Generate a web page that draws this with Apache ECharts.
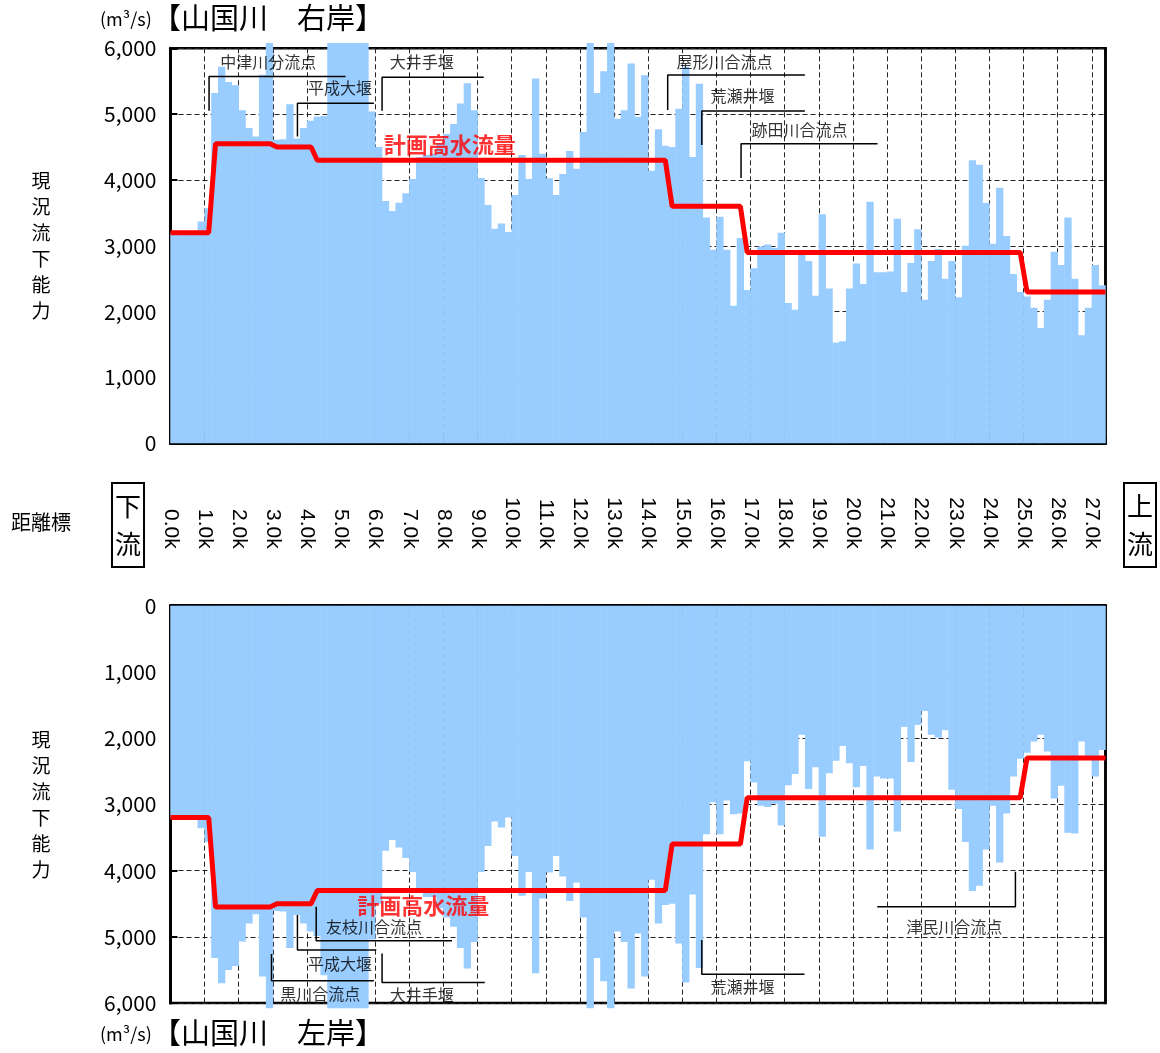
<!DOCTYPE html>
<html><head><meta charset="utf-8">
<script src="https://cdn.jsdelivr.net/npm/echarts@6/dist/echarts.min.js"></script>
<style>html,body{margin:0;padding:0;background:#fff}#c{width:1160px;height:1053px}</style>
</head><body><div id="c"></div>
<script>
// ---- data (m3/s), one bar per 0.2 km section, from 0.0k upstream ----
const rightBank = [
3200,3200,3200,3200,3370,3570,5320,5720,5490,5440,
5060,4790,4660,5600,6080,4610,4620,5150,4630,4790,
4900,4960,4970,6080,6080,6080,6080,6080,6080,5040,
4500,3680,3530,3655,3800,4015,4350,4380,4400,4560,
4700,4850,5160,5470,5060,4030,3620,3260,3340,3210,
3770,4380,4015,5540,4400,4025,3770,4090,4440,4170,
4730,6080,5320,5650,6080,4930,5060,5770,4960,5590,
4140,4770,4520,4500,5080,5720,4350,5460,3430,2940,
3440,2940,2090,3120,2330,2660,2990,3020,2970,3200,
2130,2030,2860,2770,2240,3480,2350,1530,1550,2350,
2730,2420,3670,2600,2600,2610,3410,2300,2740,3250,
2180,2770,2950,2500,2770,2220,3000,4300,4230,3650,
3030,3880,3150,2570,2300,2230,2060,1750,2180,2910,
2710,3430,2500,1640,2060,2710,2400
];
const leftBank = [
3200,3200,3200,3200,3360,3570,5320,5700,5500,5440,
5070,4800,4660,5600,6080,4610,4620,5170,4670,4800,
4920,4990,5580,6080,6080,6080,6080,6080,6080,5040,
4500,3700,3540,3650,3810,4020,4300,4400,4400,4570,
4710,4850,5170,5480,5080,4020,3630,3260,3350,3200,
3780,4380,4020,5550,4420,4030,3780,4090,4460,4180,
4710,6080,5320,5670,6080,4920,5080,5780,4950,5600,
4140,4800,4520,4500,5100,5690,4360,5470,3450,2970,
3450,2940,3150,3140,2350,2670,3020,3040,2990,3320,
2710,2540,1950,2770,2440,3490,2530,2340,2120,2380,
2740,2420,3680,2580,2610,2610,3410,1830,2360,1800,
1590,1950,1990,1880,2780,3070,3570,4310,4230,3680,
3020,3880,3140,2580,2310,2220,2050,1950,2200,2910,
2720,3430,3440,2050,2310,2580,2180
];
// 計画高水流量 (plan flood discharge) as a step line
const planKm = [0, 1.12, 1.32, 2.92, 3.12, 4.12, 4.3, 14.5, 14.7, 16.7, 16.9, 24.9, 25.1, 27.4];
const planQ  = [3200, 3200, 4550, 4550, 4500, 4500, 4300, 4300, 3600, 3600, 2900, 2900, 2300, 2300];
const kmLabels = ['0.0k','1.0k','2.0k','3.0k','4.0k','5.0k','6.0k','7.0k','8.0k','9.0k','10.0k','11.0k','12.0k','13.0k',
  '14.0k','15.0k','16.0k','17.0k','18.0k','19.0k','20.0k','21.0k','22.0k','23.0k','24.0k','25.0k','26.0k','27.0k'];
const qLabels = ['0','1,000','2,000','3,000','4,000','5,000','6,000'];
// annotations (km, m3/s)
const notesRight = [
  {name:'中津川分流点', path:[[1.13,5050],[1.13,5570],[5.13,5570]], at:[2.88,5790]},
  {name:'平成大堰', path:[[3.72,4660],[3.72,5165],[5.96,5165]], at:[4.98,5385]},
  {name:'大井手堰', path:[[6.2,5050],[6.2,5560],[9.18,5560]], at:[7.38,5790]},
  {name:'屋形川合流点', path:[[14.57,5063],[14.57,5595],[18.59,5595]], at:[16.25,5790]},
  {name:'荒瀬井堰', path:[[15.57,4531],[15.57,5048],[18.59,5048]], at:[16.78,5270]},
  {name:'跡田川合流点', path:[[16.72,4030],[16.72,4551],[20.72,4551]], at:[18.45,4755]}
];
const notesLeft = [
  {name:'友枝川合流点', path:[[4.27,4547],[4.27,5060],[8.25,5060]], at:[5.98,4860]},
  {name:'平成大堰', path:[[3.72,4672],[3.72,5201],[6.03,5201]], at:[4.98,5420]},
  {name:'黒川合流点', path:[[2.96,5261],[2.96,5665],[5.96,5665]], at:[4.4,5875]},
  {name:'大井手堰', path:[[6.2,5251],[6.2,5689],[9.21,5689]], at:[7.38,5890]},
  {name:'荒瀬井堰', path:[[15.57,5050],[15.57,5564],[18.58,5564]], at:[16.78,5765]},
  {name:'津民川合流点', path:[[24.76,4018],[24.76,4547],[20.71,4547]], at:[22.98,4865]}
];
const planLabelRight = [8.2, 4530];
const planLabelLeft = [7.42, 4536];

// ---- chart ----
const distances = rightBank.map((_, i) => (i * 0.2).toFixed(1));
const planData = planKm.map((k, i) => [k, planQ[i]]);
const CJK = '"Noto Sans CJK JP", sans-serif';
const BLUE = '#99ccff';
const gridLine = {show:true, lineStyle:{color:'#222', type:[5,3], width:1}};
const tick = {show:true, inside:true, length:6, lineStyle:{color:'#000', width:2}};

function bracketSeries(list, xi, yi) {
  return list.map(a => ({type:'line', xAxisIndex:xi, yAxisIndex:yi, data:a.path, symbol:'none',
    silent:true, z:4, lineStyle:{color:'#000', width:1.5}}));
}
function noteSeries(list, xi, yi, plan) {
  const data = list.map(a => ({name:a.name, value:a.at}));
  data.push({name:'計画高水流量', value:plan, label:{color:'#ff0000', fontWeight:'bold', fontSize:22}});
  return {type:'scatter', xAxisIndex:xi, yAxisIndex:yi, symbolSize:1, silent:true, z:6,
    itemStyle:{color:'rgba(0,0,0,0)'}, data,
    label:{show:true, position:[0,0], align:'center', verticalAlign:'middle', formatter:'{b}',
      fontFamily:CJK, fontSize:16, color:'#000'}};
}
function yAx(gi, inverse) {
  return {type:'value', gridIndex:gi, min:0, max:6000, interval:1000, inverse,
    axisLine:{show:true, lineStyle:{color:'#000', width:3}},
    axisTick:{show:true, inside:true, length:7, lineStyle:{color:'#000', width:2}},
    axisLabel:{show:true, margin:14, fontSize:21, color:'#000', fontFamily:CJK,
      formatter: v => qLabels[Math.round(v/1000)]},
    splitLine:gridLine,
    name:'現\n況\n流\n下\n能\n力', nameLocation:'middle', nameGap:120, nameRotate:0,
    nameTextStyle:{fontSize:19, lineHeight:26, color:'#000', fontFamily:CJK}};
}
function rightEdge(gi) {
  return {type:'value', gridIndex:gi, position:'right', min:0, max:6000,
    axisLine:{show:true, lineStyle:{color:'#000', width:2.5}}, axisTick:{show:false},
    axisLabel:{show:false}, splitLine:{show:false}};
}
const titleStyle = (size) => ({fontSize:size, fontWeight:'normal', color:'#000', fontFamily:CJK});
const barStyle = {color:BLUE, borderWidth:0, opacity:1};

const option = {
  animation:false,
  backgroundColor:'#fff',
  title:[
    {text:'【山国川　右岸】', left:152, top:3, padding:0, textStyle:titleStyle(29)},
    {text:'(m³/s)', left:100, top:10, padding:0, textStyle:titleStyle(18)},
    {text:'【山国川　左岸】', left:152, top:1018, padding:0, textStyle:titleStyle(29)},
    {text:'(m³/s)', left:100, top:1025, padding:0, textStyle:titleStyle(18)},
    {text:'距離標', left:11, top:512, padding:0, textStyle:titleStyle(20)},
    {text:'下\n流', left:112, top:483, padding:[4,3], borderColor:'#000', borderWidth:2, textStyle:Object.assign(titleStyle(26), {lineHeight:38})},
    {text:'上\n流', left:1124, top:483, padding:[4,3], borderColor:'#000', borderWidth:2, textStyle:Object.assign(titleStyle(26), {lineHeight:38})}
  ],
  grid:[
    {left:170.5, top:48.3, width:935, height:395, show:true, borderColor:'#000', borderWidth:2.5, backgroundColor:'#fff', outerBoundsMode:'none', containLabel:false},
    {left:170.5, top:605.7, width:935, height:397.3, show:true, borderColor:'#000', borderWidth:2.5, backgroundColor:'#fff', outerBoundsMode:'none', containLabel:false}
  ],
  xAxis:[
    {type:'category', gridIndex:0, data:distances, show:false, boundaryGap:true,
      axisLine:{show:false}, axisTick:{show:false}, axisLabel:{show:false}, splitLine:{show:false}, splitArea:{show:false}},
    {type:'value', gridIndex:0, min:0, max:27.4, interval:1, position:'bottom',
      axisLine:{show:true, onZero:false, lineStyle:{color:'#000', width:3}}, axisTick:tick,
      axisLabel:{show:false}, splitLine:gridLine},
    {type:'category', gridIndex:1, data:distances, show:false, boundaryGap:true,
      axisLine:{show:false}, axisTick:{show:false}, axisLabel:{show:false}, splitLine:{show:false}, splitArea:{show:false}},
    {type:'value', gridIndex:1, min:0, max:27.4, interval:1, position:'top',
      axisLine:{show:true, onZero:false, lineStyle:{color:'#000', width:3}}, axisTick:tick,
      axisLabel:{show:true, rotate:90, margin:57, fontSize:21, color:'#000',
        fontFamily:'"Liberation Sans", Arial, sans-serif', showMaxLabel:false, showMinLabel:true,
        formatter: v => (Math.abs(v - Math.round(v)) < 1e-6 ? (kmLabels[Math.round(v)] || '') : '')},
      splitLine:gridLine}
  ],
  yAxis:[ yAx(0,false), yAx(1,true), rightEdge(0), rightEdge(1) ],
  series:[
    {type:'bar', name:'右岸', xAxisIndex:0, yAxisIndex:0, data:rightBank, barWidth:7.3,
      clip:false, itemStyle:barStyle, z:2, silent:true},
    {type:'bar', name:'左岸', xAxisIndex:2, yAxisIndex:1, data:leftBank, barWidth:7.3,
      clip:false, itemStyle:barStyle, z:2, silent:true},
    ...bracketSeries(notesRight, 1, 0),
    ...bracketSeries(notesLeft, 3, 1),
    {type:'line', name:'計画高水流量', xAxisIndex:1, yAxisIndex:0, data:planData, symbol:'none', z:5,
      lineStyle:{color:'#ff0000', width:5}, silent:true},
    {type:'line', name:'計画高水流量', xAxisIndex:3, yAxisIndex:1, data:planData, symbol:'none', z:5,
      lineStyle:{color:'#ff0000', width:5}, silent:true},
    noteSeries(notesRight, 1, 0, planLabelRight),
    noteSeries(notesLeft, 3, 1, planLabelLeft)
  ]
};
const chart = echarts.init(document.getElementById('c'), null, {renderer:'canvas'});
chart.setOption(option);
</script>
</body></html>
